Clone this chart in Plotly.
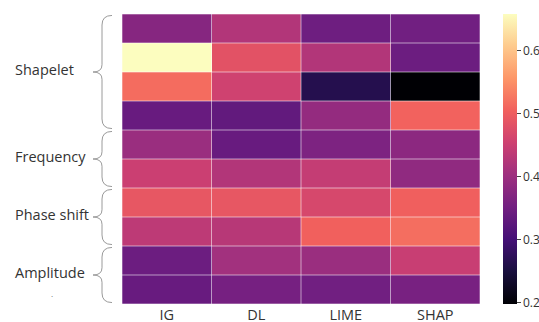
import plotly.graph_objects as go

# Attribution methods (columns)
methods = ["IG", "DL", "LIME", "SHAP"]

# Perturbation groups and how many rows each one spans
group_names = ["Shapelet", "Frequency", "Phase shift", "Amplitude"]
group_sizes = [4, 2, 2, 2]

# Scores, one row per setting, top to bottom
shapelet_rows = [
    [0.374, 0.424, 0.347, 0.350],
    [0.658, 0.483, 0.424, 0.345],
    [0.516, 0.456, 0.264, 0.198],
    [0.340, 0.334, 0.391, 0.507],
]
frequency_rows = [
    [0.398, 0.340, 0.364, 0.381],
    [0.451, 0.424, 0.444, 0.386],
]
phase_rows = [
    [0.490, 0.490, 0.466, 0.503],
    [0.436, 0.430, 0.505, 0.518],
]
amplitude_rows = [
    [0.345, 0.407, 0.398, 0.448],
    [0.340, 0.356, 0.350, 0.358],
]

colorbar_ticks = [0.2, 0.3, 0.4, 0.5, 0.6]

z = shapelet_rows + frequency_rows + phase_rows + amplitude_rows
n_rows = len(z)
n_cols = len(methods)

W, H = 539, 322
L, R, T, B = 122, 59, 14, 18
plot_w = W - L - R
plot_h = H - T - B


def px_to_paper_x(px):
    return (px - L) / plot_w


def px_to_paper_y(py):
    return (H - B - py) / plot_h


fig = go.Figure(
    go.Heatmap(
        z=z,
        x=list(range(n_cols)),
        y=list(range(n_rows)),
        colorscale="Magma",
        zmin=min(min(r) for r in z),
        zmax=max(max(r) for r in z),
        colorbar=dict(
            x=px_to_paper_x(503),
            xanchor="left",
            xpad=0,
            y=0.5,
            yanchor="middle",
            len=1,
            lenmode="fraction",
            ypad=0,
            thickness=14,
            outlinewidth=0,
            tickvals=colorbar_ticks,
            ticks="outside",
            ticklen=4,
            tickwidth=1,
            tickcolor="#444",
            tickfont=dict(family="Open Sans", size=12, color="#333"),
        ),
        hoverongaps=False,
    )
)

shapes = []
# thin translucent cell separators
for i in range(n_cols + 1):
    shapes.append(dict(type="line", xref="x", yref="y",
                       x0=i - 0.5, x1=i - 0.5, y0=-0.5, y1=n_rows - 0.5,
                       line=dict(color="rgba(255,255,255,0.55)", width=1)))
for j in range(n_rows + 1):
    shapes.append(dict(type="line", xref="x", yref="y",
                       x0=-0.5, x1=n_cols - 0.5, y0=j - 0.5, y1=j - 0.5,
                       line=dict(color="rgba(255,255,255,0.55)", width=1)))

# curly braces and group labels on the left
x_end = px_to_paper_x(112)
x_v = px_to_paper_x(102)
x_tip = px_to_paper_x(93)
annotations = []
start = 0
for name, size in zip(group_names, group_sizes):
    y0 = start - 0.5 + 0.05
    y1 = start + size - 0.5 - 0.05
    ym = start + (size - 1) / 2
    d = 0.33
    dm = 0.25
    path = (
        f"M {x_end},{y0} Q {x_v},{y0} {x_v},{y0 + d} "
        f"L {x_v},{ym - dm} Q {x_v},{ym} {x_tip},{ym} "
        f"Q {x_v},{ym} {x_v},{ym + dm} "
        f"L {x_v},{y1 - d} Q {x_v},{y1} {x_end},{y1}"
    )
    shapes.append(dict(type="path", xref="paper", yref="y", path=path,
                       line=dict(color="#9a9a9a", width=1)))
    annotations.append(dict(
        text=name, xref="paper", yref="y", x=px_to_paper_x(13), y=ym,
        xanchor="left", yanchor="middle", showarrow=False, yshift=3,
        font=dict(family="Open Sans", size=14.5, color="#333"),
    ))
    start += size

annotations.append(dict(
    text=".", xref="paper", yref="paper", x=px_to_paper_x(52), y=px_to_paper_y(300),
    xanchor="center", yanchor="bottom", showarrow=False, borderpad=0,
    font=dict(family="Open Sans", size=8, color="#666"),
))

fig.update_layout(
    width=W,
    height=H,
    margin=dict(l=L, r=R, t=T, b=B, autoexpand=False),
    paper_bgcolor="white",
    plot_bgcolor="white",
    shapes=shapes,
    annotations=annotations,
    xaxis=dict(
        tickvals=list(range(n_cols)),
        ticktext=methods,
        range=[-0.5, n_cols - 0.5],
        showgrid=False,
        zeroline=False,
        showline=False,
        ticks="",
        tickfont=dict(family="Open Sans", size=14.5, color="#333"),
    ),
    yaxis=dict(
        range=[n_rows - 0.5, -0.5],
        showticklabels=False,
        showgrid=False,
        zeroline=False,
        showline=False,
        ticks="",
    ),
)

fig.write_html("out.html")
